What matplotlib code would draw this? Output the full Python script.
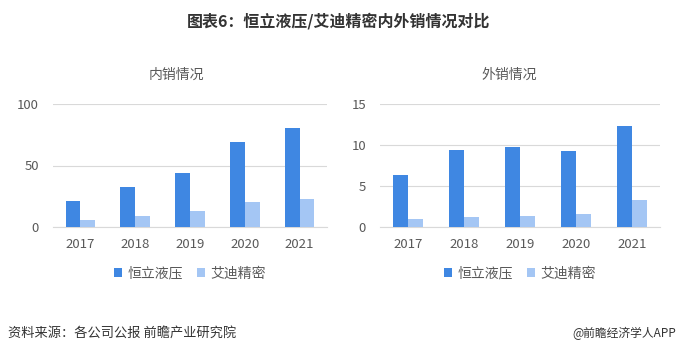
import matplotlib
matplotlib.use("Agg")
import matplotlib.pyplot as plt
import numpy as np

plt.rcParams['font.family'] = ['Noto Sans CJK SC', 'DejaVu Sans']

years = ['2017', '2018', '2019', '2020', '2021']
series_names = ['恒立液压', '艾迪精密']
domestic_hengli = [21.2, 32.6, 44.0, 69.3, 80.7]
domestic_aidi = [5.7, 9.0, 13.0, 20.4, 22.8]
export_hengli = [6.36, 9.42, 9.78, 9.29, 12.35]
export_aidi = [0.98, 1.22, 1.39, 1.63, 3.30]

c_dark = '#3F87E2'
c_light = '#A4C6F4'
txt = '#595959'

fig = plt.figure(figsize=(6.78, 3.57), dpi=100)
fig.patch.set_facecolor('white')

fig.text(0.5, 1 - 21/357, '图表6：恒立液压/艾迪精密内外销情况对比', ha='center', va='center',
         fontsize=11.5, fontweight='bold', color='#333333')

def draw(rect, a, b, yticks, title, title_x):
    ax = fig.add_axes(rect)
    x = np.arange(len(years))
    w = 0.27
    ax.bar(x - w/2, a, w, color=c_dark, label=series_names[0], zorder=3)
    ax.bar(x + w/2, b, w, color=c_light, label=series_names[1], zorder=3)
    ax.set_xlim(-0.5, len(years) - 0.5)
    ax.set_ylim(0, yticks[-1])
    ax.set_yticks(yticks)
    ax.set_xticks(x)
    ax.set_xticklabels(years)
    ax.grid(axis='y', color='#D9D9D9', linewidth=0.8, zorder=0)
    for s in ['top', 'right', 'left']:
        ax.spines[s].set_visible(False)
    ax.spines['bottom'].set_color('#D9D9D9')
    ax.tick_params(axis='both', length=0, labelsize=9.5, colors=txt)
    ax.tick_params(axis='x', pad=8)
    ax.tick_params(axis='y', pad=10)
    fig.text(title_x, 1 - 75/357, title, ha='center', va='center', fontsize=10, color=txt)
    leg = ax.legend(loc='upper center', bbox_to_anchor=(0.5, -0.22), ncol=2, frameon=False,
                    fontsize=10, handlelength=0.6, handleheight=0.6, handletextpad=0.4,
                    columnspacing=1.0)
    for t in leg.get_texts():
        t.set_color(txt)
    return ax

draw([53/678, 1 - 227/357, 274/678, 123/357], domestic_hengli, domestic_aidi,
     [0, 50, 100], '内销情况', 176/678)
draw([380/678, 1 - 227/357, 280/678, 123/357], export_hengli, export_aidi,
     [0, 5, 10, 15], '外销情况', 509/678)

fig.text(8/678, 1 - 333/357, '资料来源：各公司公报 前瞻产业研究院', ha='left', va='center',
         fontsize=9.5, color='#333333')
fig.text(676/678, 1 - 333/357, '@前瞻经济学人APP', ha='right', va='center',
         fontsize=8.5, color='#333333')

fig.savefig('out.png', dpi=100, facecolor='white')
